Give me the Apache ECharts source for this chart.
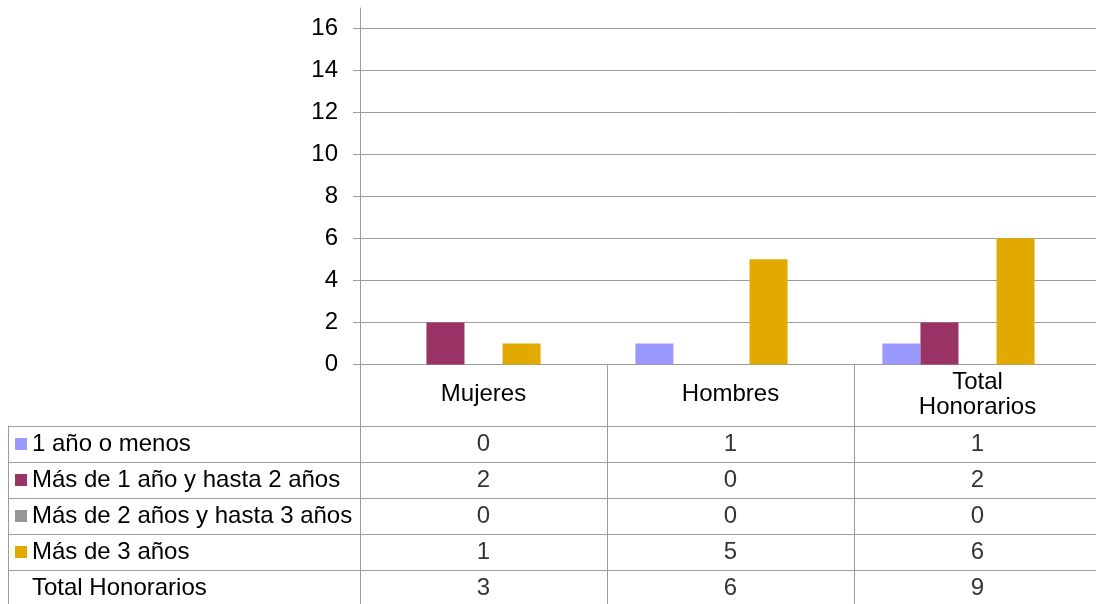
<!DOCTYPE html>
<html>
<head>
<meta charset="utf-8">
<script src="https://cdn.jsdelivr.net/npm/echarts@6/dist/echarts.min.js"></script>
<style>
html,body{margin:0;padding:0;background:#fff;}
#c{width:1096px;height:604px;}
</style>
</head>
<body>
<div id="c"></div>
<script>
// ---- data ----
const categories = ['Mujeres', 'Hombres', 'Total Honorarios'];
const seriesNames = ['1 año o menos', 'Más de 1 año y hasta 2 años', 'Más de 2 años y hasta 3 años', 'Más de 3 años', 'Total Honorarios'];
const unAnioOMenos = [0, 1, 1];
const de1a2 = [2, 0, 2];
const de2a3 = [0, 0, 0];
const masDe3 = [1, 5, 6];
const totalHonorarios = [3, 6, 9];
const yMin = 0;
const yMax = 16;
const yStep = 2;

// ---- styles ----
const colors = ['#9999FF', '#993366', '#969696', '#E2AA00', 'rgba(0,0,0,0)'];
const gridColor = '#9c9c9c';
const FONT = 'Liberation Sans, Arial, sans-serif';
const FS = 24;

const allValues = [unAnioOMenos, de1a2, de2a3, masDe3, totalHonorarios];

const barSeries = allValues.map((vals, i) => ({
  name: seriesNames[i],
  type: 'bar',
  xAxisIndex: 0,
  yAxisIndex: 0,
  data: vals,
  barGap: '0%',
  barCategoryGap: '23%',
  itemStyle: { color: colors[i] },
  silent: true
}));

const cellData = [];
allValues.forEach((vals, r) => {
  vals.forEach((v, c) => cellData.push([c, r, v]));
});

const rich = { t: { fontSize: FS, fontFamily: FONT, color: '#000', padding: [0, 0, 0, 5] } };
colors.forEach((col, i) => {
  rich['sq' + i] = { width: 12, height: 12, backgroundColor: col, verticalAlign: 'middle' };
});

const lineStyle = { color: gridColor, width: 1 };

const chart = echarts.init(document.getElementById('c'), null, { renderer: 'canvas' });
chart.setOption({
  animation: false,
  backgroundColor: '#fff',
  textStyle: { fontFamily: FONT },
  grid: [
    { left: 360, right: -5, top: 28, height: 336.5, outerBoundsMode: 'none', containLabel: false },
    { left: 360, right: -5, top: 426, height: 180, outerBoundsMode: 'none', containLabel: false },
    { left: 360, right: -5, top: 8, height: 20, outerBoundsMode: 'none', containLabel: false }
  ],
  xAxis: [
    {
      gridIndex: 0,
      type: 'category',
      data: categories,
      axisLine: { show: true, lineStyle: lineStyle },
      axisTick: { show: true, interval: 0, length: 61.5, lineStyle: lineStyle },
      axisLabel: {
        interval: 0, margin: 30, verticalAlign: 'middle', fontSize: FS, lineHeight: 25,
        color: '#000', fontFamily: FONT,
        formatter: v => v.replace(' ', '\n')
      },
      splitLine: { show: false }
    },
    {
      gridIndex: 1,
      type: 'category',
      data: categories,
      axisLine: { show: false },
      axisTick: { show: false },
      axisLabel: { show: false },
      splitLine: { show: true, interval: 0, lineStyle: lineStyle }
    },
    {
      gridIndex: 2,
      type: 'category',
      data: categories,
      axisLine: { show: false },
      axisTick: { show: false },
      axisLabel: { show: false },
      splitLine: { show: false }
    }
  ],
  yAxis: [
    {
      gridIndex: 0,
      type: 'value',
      min: yMin,
      max: yMax,
      interval: yStep,
      axisLine: { show: true, lineStyle: lineStyle },
      axisTick: { show: true, length: 7, lineStyle: lineStyle },
      axisLabel: { margin: 22, fontSize: FS, color: '#000', fontFamily: FONT },
      splitLine: { show: true, lineStyle: lineStyle }
    },
    {
      gridIndex: 1,
      type: 'category',
      position: 'left',
      inverse: true,
      data: seriesNames,
      axisLine: { show: true, lineStyle: lineStyle },
      axisTick: { show: true, interval: 0, length: 352, lineStyle: lineStyle },
      axisLabel: {
        interval: 0, align: 'left', margin: 345,
        formatter: (v, idx) => '{sq' + idx + '| }{t|' + v + '}',
        rich: rich
      },
      splitLine: { show: true, interval: 0, lineStyle: lineStyle }
    },
    {
      gridIndex: 1,
      type: 'category',
      position: 'left',
      inverse: true,
      data: seriesNames,
      offset: 352,
      axisLine: { show: true, lineStyle: lineStyle },
      axisTick: { show: false },
      axisLabel: { show: false },
      splitLine: { show: false }
    },
    {
      gridIndex: 2,
      type: 'value',
      position: 'left',
      min: yMax,
      max: yMax + 1,
      axisLine: { show: true, lineStyle: lineStyle },
      axisTick: { show: false },
      axisLabel: { show: false },
      splitLine: { show: false }
    }
  ],
  series: barSeries.concat([{
    type: 'scatter',
    xAxisIndex: 1,
    yAxisIndex: 1,
    data: cellData,
    symbolSize: 1,
    itemStyle: { color: 'rgba(0,0,0,0)' },
    silent: true,
    label: {
      show: true, position: 'inside', fontSize: FS, color: '#000', fontFamily: FONT,
      formatter: p => String(p.value[2])
    }
  }])
});
</script>
</body>
</html>
